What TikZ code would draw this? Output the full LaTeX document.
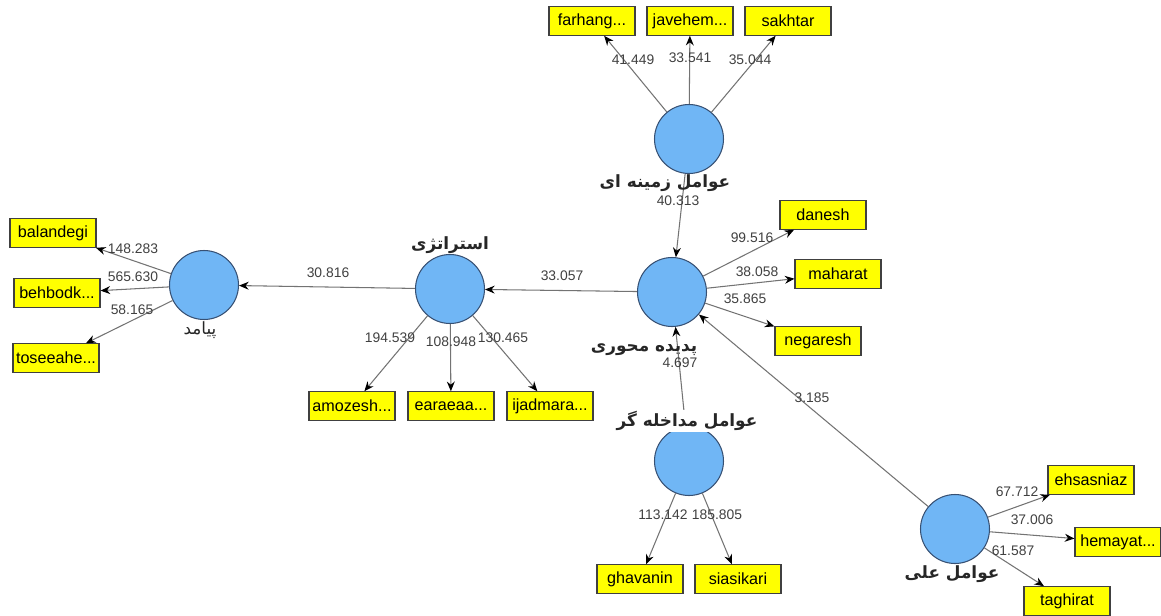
\documentclass[tikz,border=0pt]{standalone}
\usepackage{fontspec}
\setmainfont{Liberation Sans}
\newfontfamily\arabicfont[Script=Arabic]{DejaVu Sans}
\TeXXeTstate=1
\usetikzlibrary{arrows.meta}
\definecolor{latentfill}{RGB}{112,182,245}
\definecolor{latentline}{RGB}{55,80,115}
\definecolor{boxyellow}{RGB}{255,255,0}

\begin{document}
\begin{tikzpicture}[x=0.02cm, y=-0.02cm,
      latent/.style={draw=latentline, fill=latentfill, circle, minimum size=1.38cm, inner sep=0pt, line width=0.6pt},
      indicator/.style={draw=black!75, fill=boxyellow, minimum width=1.72cm, minimum height=0.57cm,
        inner sep=1pt, line width=0.6pt, font=\fontsize{9.2}{11}\selectfont},
      coef/.style={text=black!75, inner sep=0pt, font=\fontsize{7.9}{9}\selectfont},
      construct/.style={inner sep=1pt, text=black!85, font=\fontsize{9.6}{12}\selectfont\arabicfont\bfseries},
      link/.style={draw=black!55, line width=0.6pt, -{Stealth[length=5.5pt, width=4.5pt, black]}},]
    \useasboundingbox (0,0) rectangle (1161,616);

    % latent variables
    \node[latent] (peyamad) at (204,285) {};
    \node[latent] (estrategy) at (450,289) {};
    \node[latent] (padideh) at (672,292) {};
    \node[latent] (zamineh) at (689,139) {};
    \node[latent] (modakhele) at (689,461) {};
    \node[latent] (elli) at (955,529) {};

    % indicators
    \node[indicator] (farhang) at (592,21) {farhang...};
    \node[indicator] (javehem) at (690,21) {javehem...};
    \node[indicator] (sakhtar) at (788,21) {sakhtar};
    \node[indicator] (danesh) at (823,215) {danesh};
    \node[indicator] (maharat) at (838,274) {maharat};
    \node[indicator] (negaresh) at (818,341) {negaresh};
    \node[indicator] (balandegi) at (53,233) {balandegi};
    \node[indicator] (behbodk) at (57,293) {behbodk...};
    \node[indicator] (toseeahe) at (56,358) {toseeahe...};
    \node[indicator] (amozesh) at (352,406) {amozesh...};
    \node[indicator] (earaeaa) at (451,406) {earaeaa...};
    \node[indicator] (ijadmara) at (550,406) {ijadmara...};
    \node[indicator] (ghavanin) at (640,579) {ghavanin};
    \node[indicator] (siasikari) at (738,579) {siasikari};
    \node[indicator] (ehsasniaz) at (1091,480) {ehsasniaz};
    \node[indicator] (hemayat) at (1118,542) {hemayat...};
    \node[indicator] (taghirat) at (1067,601) {taghirat};

    % paths
    \foreach \from/\to in {zamineh/farhang, zamineh/javehem, zamineh/sakhtar,
        zamineh/padideh, padideh/danesh, padideh/maharat, padideh/negaresh,
        padideh/estrategy, estrategy/peyamad, peyamad/balandegi, peyamad/behbodk,
        peyamad/toseeahe, estrategy/amozesh, estrategy/earaeaa, estrategy/ijadmara,
        modakhele/padideh, modakhele/ghavanin, modakhele/siasikari,
        elli/padideh, elli/ehsasniaz, elli/hemayat, elli/taghirat}
      \draw[link] (\from) -- (\to);

    % construct names
    \node[construct] (n-zamineh) at (665,183) {\beginR عوامل زمینه ای\endR};
    \node[construct] (n-padideh) at (644,350) {\beginR پدیده محوری\endR};
    \node[construct] (n-estrategy) at (450,245) {\beginR استراتژی\endR};
    \node[construct, font=\fontsize{9.6}{12}\selectfont\arabicfont] (n-peyamad) at (200,330) {\beginR پیامد\endR};
    \node[construct, fill=white] (n-modakhele) at (687,421) {\beginR عوامل مداخله گر\endR};
    \node[construct] (n-elli) at (952,574) {\beginR عوامل علی\endR};

    % coefficients
    \node[coef] (c-farhang) at (633,60) {41.449};
    \node[coef] (c-javehem) at (690,58) {33.541};
    \node[coef] (c-sakhtar) at (750,60) {35.044};
    \node[coef] (c-zamineh) at (678,201) {40.313};
    \node[coef] (c-danesh) at (752,238) {99.516};
    \node[coef] (c-maharat) at (757,272) {38.058};
    \node[coef] (c-negaresh) at (745,299) {35.865};
    \node[coef] (c-modakhele) at (680,363) {4.697};
    \node[coef] (c-padideh) at (562,276) {33.057};
    \node[coef] (c-estrategy) at (328,273) {30.816};
    \node[coef] (c-amozesh) at (390,338) {194.539};
    \node[coef] (c-earaeaa) at (451,342) {108.948};
    \node[coef] (c-ijadmara) at (503,338) {130.465};
    \node[coef] (c-balandegi) at (133,249) {148.283};
    \node[coef] (c-behbodk) at (133,277) {565.630};
    \node[coef] (c-toseeahe) at (132,310) {58.165};
    \node[coef] (c-ghavanin) at (663,515) {113.142};
    \node[coef] (c-siasikari) at (717,515) {185.805};
    \node[coef] (c-elli) at (812,398) {3.185};
    \node[coef] (c-ehsasniaz) at (1017,492) {67.712};
    \node[coef] (c-hemayat) at (1032,520) {37.006};
    \node[coef] (c-taghirat) at (1013,551) {61.587};
\end{tikzpicture}
\end{document}
